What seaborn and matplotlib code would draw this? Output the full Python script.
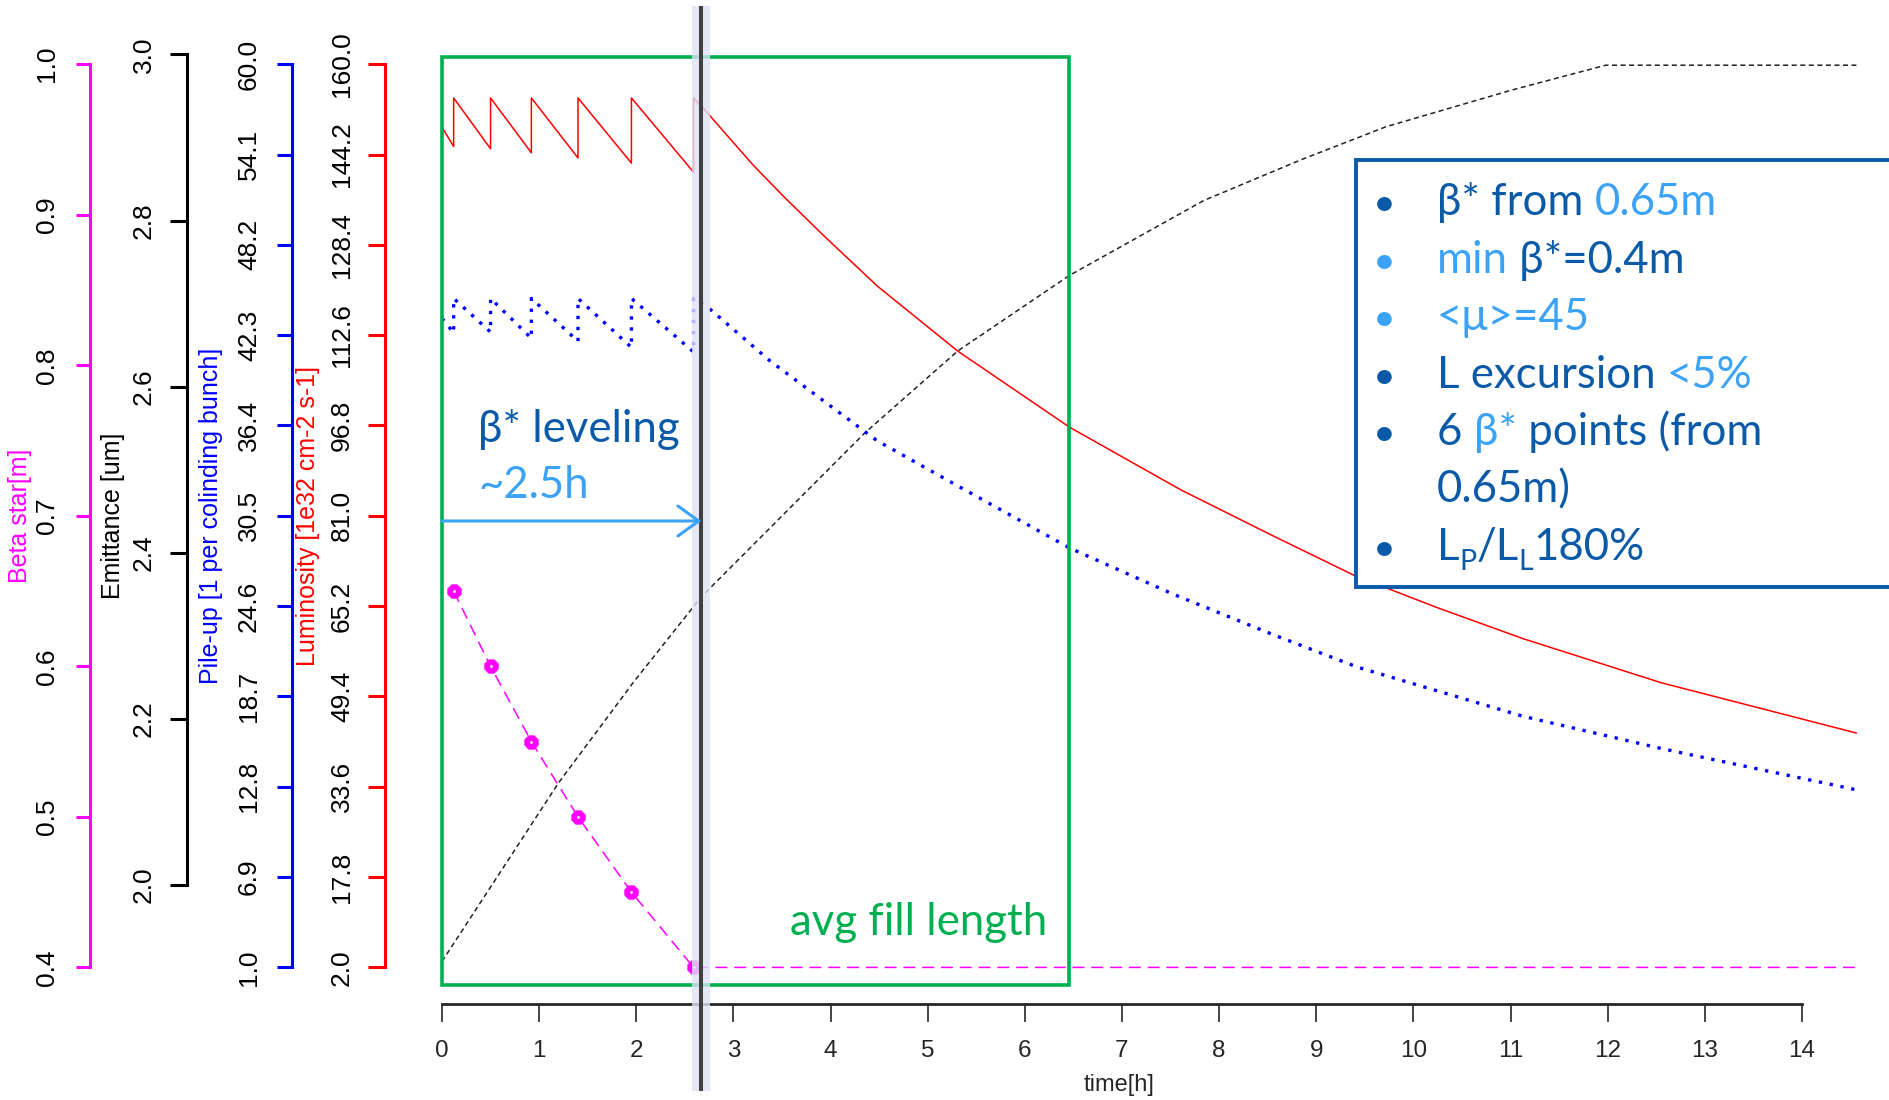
import matplotlib
matplotlib.use("Agg")
import matplotlib.pyplot as plt
import seaborn as sns
from matplotlib import font_manager
from matplotlib.patches import Rectangle

sns.set_style("white")
installed = {f.name for f in font_manager.fontManager.ttflist}
axis_font = "Liberation Sans" if "Liberation Sans" in installed else "DejaVu Sans"
plt.rcParams["font.family"] = [axis_font, "DejaVu Sans"]
slide_font = [f for f in ["Lato", "Noto Sans", "DejaVu Sans"] if f in installed]

# ---- values ----
hours = list(range(15))

lumi_t = [0.0, 0.12, 0.12, 0.50, 0.50, 0.92, 0.92, 1.40, 1.40, 1.95, 1.95, 2.59, 2.59,
          2.69, 3.20, 3.52, 3.93, 4.48, 5.31, 6.46, 7.61, 8.53, 9.40, 10.25, 11.13, 12.55, 14.56]
lumi = [149.0, 145.6, 154.1, 145.2, 154.1, 144.5, 154.1, 143.6, 154.1, 142.7, 154.1, 141.1, 154.1,
        152.3, 142.4, 136.8, 130.0, 121.2, 109.8, 96.5, 85.5, 77.7, 70.5, 64.9, 59.5, 51.8, 43.0]

pileup_t = [0.0, 0.12, 0.12, 0.50, 0.50, 0.92, 0.92, 1.40, 1.40, 1.95, 1.95, 2.59, 2.59,
            2.74, 3.38, 4.48, 5.31, 6.46, 7.52, 8.53, 9.43, 11.13, 12.55, 14.56]
pileup = [43.4, 42.45, 44.7, 42.5, 44.7, 42.1, 44.7, 41.9, 44.7, 41.5, 44.7, 41.2, 44.7,
          44.1, 40.6, 35.4, 32.45, 28.4, 25.4, 22.8, 20.6, 17.4, 15.3, 12.6]

emit_t = [0.0, 1.20, 1.97, 2.67, 4.35, 5.31, 6.46, 7.84, 8.84, 9.72, 11.01, 11.98, 14.56]
emit = [1.908, 2.123, 2.244, 2.347, 2.544, 2.643, 2.734, 2.824, 2.873, 2.913, 2.957, 2.987, 2.987]

beta_t = [0.12, 0.50, 0.92, 1.40, 1.95, 2.59]
beta = [0.65, 0.60, 0.55, 0.50, 0.45, 0.40]
beta_flat_t = [2.59, 14.56]
beta_flat = [0.40, 0.40]

leveling_end = 2.67
fill_length = 6.45

beta_ticks = [0.4, 0.5, 0.6, 0.7, 0.8, 0.9, 1.0]
emit_ticks = [2.0, 2.2, 2.4, 2.6, 2.8, 3.0]
pileup_ticks = [1.0, 6.9, 12.8, 18.7, 24.6, 30.5, 36.4, 42.3, 48.2, 54.1, 60.0]
lumi_ticks = [2.0, 17.8, 33.6, 49.4, 65.2, 81.0, 96.8, 112.6, 128.4, 144.2, 160.0]

DARK = "#0B5AA8"
LIGHT = "#3BA3F7"
GREEN = "#00B050"

# ---- layout (pixels of the 1890x1100 canvas) ----
W, H = 1890, 1100
PX = 100 / 72  # pixels per point
AX_L, AX_T, AX_R, AX_B = 400, 40, 1870, 1004
rect = [AX_L / W, 1 - AX_B / H, (AX_R - AX_L) / W, (AX_B - AX_T) / H]


def span(v0, p0, v1, p1, lo, hi):
    k = (v1 - v0) / (p1 - p0)
    return v0 + (lo - p0) * k, v0 + (hi - p0) * k


def fy(py):
    return (AX_B - py) / (AX_B - AX_T)


xlim = span(0, 442, 14, 1802, AX_L, AX_R)

fig = plt.figure(figsize=(W / 100, H / 100), dpi=100)


def layer():
    a = fig.add_axes(rect)
    a.set_xlim(xlim)
    a.patch.set_visible(False)
    for s in a.spines.values():
        s.set_visible(False)
    a.set_xticks([])
    a.set_yticks([])
    return a


ax = layer()
ax.spines["bottom"].set_visible(True)
ax.spines["bottom"].set_bounds(0, 14)
ax.spines["bottom"].set_linewidth(2)
ax.set_xticks(hours, [str(h) for h in hours])
ax.tick_params(axis="x", bottom=True, length=18 / PX, width=1.2, labelsize=17.5, pad=13)
fig.text(1119 / W, 1 - 1085 / H, "time[h]", ha="center", va="center", fontsize=17)


def side(a, spine_px, v0, p0, v1, p1, ticks, color, ticklen, label, label_px):
    a.set_ylim(*span(v0, p0, v1, p1, AX_B, AX_T))
    sp = a.spines["left"]
    sp.set_visible(True)
    sp.set_position(("axes", (spine_px - AX_L) / (AX_R - AX_L)))
    sp.set_bounds(v0, v1)
    sp.set_color(color)
    sp.set_linewidth(2.2)
    a.set_yticks(ticks, [f"{t:.1f}" for t in ticks])
    a.tick_params(axis="y", left=True, color=color, labelcolor="black", length=ticklen / PX,
                  width=2.2, labelsize=19, pad=(31 - ticklen) / PX, labelrotation=90)
    plt.setp(a.get_yticklabels(), va="center")
    fig.text(label_px / W, 1 - 516 / H, label, rotation=90, color=color,
             ha="center", va="center", fontsize=18)


ax_b = layer()
side(ax_b, 90, 0.4, 967.4, 1.0, 64.2, beta_ticks, "#FF00FF", 14, "Beta star[m]", 20)
ax_e = layer()
side(ax_e, 187, 2.0, 885, 3.0, 54.4, emit_ticks, "black", 17, "Emittance [um]", 113)
ax_p = layer()
side(ax_p, 292, 1.0, 967.4, 60.0, 64.2, pileup_ticks, "#0000FF", 15,
     "Pile-up [1 per colinding bunch]", 211)
ax_l = layer()
side(ax_l, 385, 2.0, 967.4, 160.0, 64.2, lumi_ticks, "#FF0000", 17,
     "Luminosity [1e32 cm-2 s-1]", 308)

sns.lineplot(x=lumi_t, y=lumi, ax=ax_l, color="#FF0000", linewidth=1.1,
             estimator=None, sort=False)
sns.lineplot(x=pileup_t, y=pileup, ax=ax_p, color="#0000FF", linewidth=2.4,
             linestyle=(0, (1, 2.3)), estimator=None, sort=False)
sns.lineplot(x=emit_t, y=emit, ax=ax_e, color="#222222", linewidth=1.1,
             linestyle=(0, (3.3, 2.3)), estimator=None, sort=False)
sns.lineplot(x=beta_t + beta_flat_t[1:], y=beta + beta_flat[1:], ax=ax_b, color="#FF00FF",
             linewidth=1.1, linestyle=(0, (7.8, 4.5)), estimator=None, sort=False)
sns.scatterplot(x=beta_t, y=beta, ax=ax_b, color="#FF00FF", marker="8", s=110,
                edgecolor="#FF00FF", linewidth=0.5, zorder=5)
sns.scatterplot(x=beta_t, y=beta, ax=ax_b, color="white", marker="o", s=4,
                linewidth=0, zorder=6)

for a in [ax_b, ax_e, ax_p, ax_l]:
    a.set_xlim(xlim)
    a.set_xlabel("")
    a.set_ylabel("")
    a.set_xticks([])

# overlay: fill box, leveling arrow, end-of-leveling marker line
ov = layer()
ov.set_ylim(0, 1)
tr = ov.get_xaxis_transform()
ov.add_patch(Rectangle((0, fy(985)), fill_length, fy(57) - fy(985), transform=tr,
                       fill=False, edgecolor=GREEN, linewidth=2.6, clip_on=False))
ov.annotate("", xy=(leveling_end, fy(521)), xytext=(0, fy(521)), xycoords=tr, textcoords=tr,
            arrowprops=dict(arrowstyle="->,head_length=0.5,head_width=0.36", color=LIGHT,
                            lw=2.2, mutation_scale=30, shrinkA=0, shrinkB=0),
            annotation_clip=False)
ov.plot([leveling_end, leveling_end], [fy(6), fy(1091)], transform=tr, color="#DCE2F4",
        lw=13, alpha=0.8, clip_on=False, solid_capstyle="butt")
ov.plot([leveling_end, leveling_end], [fy(6), fy(1091)], transform=tr, color="#404040",
        lw=2.9, clip_on=False, solid_capstyle="butt")

# ---- slide annotations ----
R = fig.canvas.get_renderer()


def advance(s, size):
    a = fig.text(0, 0, "|" + s + "|", fontsize=size, family=slide_font)
    b = fig.text(0, 0, "||", fontsize=size, family=slide_font)
    w = a.get_window_extent(R).width - b.get_window_extent(R).width
    a.remove()
    b.remove()
    return w


def rich(x, y, parts, size):
    for s, c, scale, dy in parts:
        fig.text(x / W, 1 - (y + dy) / H, s, color=c, fontsize=size * scale,
                 family=slide_font, va="baseline", ha="left", zorder=7)
        x += advance(s, size * scale)


SZ = 31.5
fig.text(478 / W, 1 - 442 / H, "β* leveling", color=DARK, fontsize=SZ, family=slide_font,
         va="baseline")
fig.text(478 / W, 1 - 498 / H, "~2.5h", color=LIGHT, fontsize=SZ, family=slide_font,
         va="baseline")
fig.text(790 / W, 1 - 935 / H, "avg fill length", color=GREEN, fontsize=SZ,
         family=slide_font, va="baseline")

fig.add_artist(Rectangle((1356 / W, 1 - 587 / H), (1900 - 1356) / W, (587 - 160) / H,
                         transform=fig.transFigure, facecolor="white", edgecolor=DARK,
                         linewidth=2.8, zorder=6))

legend_lines = [
    (DARK, [("β* from ", DARK, 1, 0), ("0.65m", LIGHT, 1, 0)]),
    (LIGHT, [("min", LIGHT, 1, 0), (" β*=0.4m", DARK, 1, 0)]),
    (LIGHT, [("<μ>=45", LIGHT, 1, 0)]),
    (DARK, [("L excursion ", DARK, 1, 0), ("<5%", LIGHT, 1, 0)]),
    (DARK, [("6 ", DARK, 1, 0), ("β*", LIGHT, 1, 0), (" points (from", DARK, 1, 0)]),
    (None, [("0.65m)", DARK, 1, 0)]),
    (DARK, [("L", DARK, 1, 0), ("P", DARK, 0.65, 10), ("/L", DARK, 1, 0),
            ("L", DARK, 0.65, 10), ("180%", DARK, 1, 0)]),
]
for i, (bullet, parts) in enumerate(legend_lines):
    base = 215 + i * 57.5
    if bullet:
        fig.text(1384 / W, 1 - base / H, "•", color=bullet, fontsize=SZ * 0.9,
                 family=slide_font, ha="center", va="baseline", zorder=7)
    rich(1437, base, parts, SZ)

fig.savefig("out.png", dpi=100)
